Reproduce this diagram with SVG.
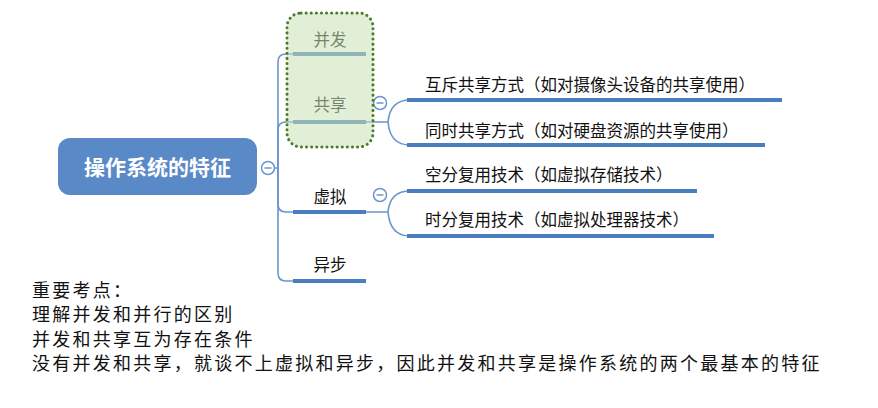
<svg xmlns="http://www.w3.org/2000/svg" width="878" height="408" viewBox="0 0 878 408">
<style>
.conn{fill:none;stroke:#6B95CD;stroke-width:1.6}
.bar{fill:#4B7DC1}
.lbl{font-family:"Noto Sans CJK SC","Noto Sans",sans-serif;font-size:16.5px;fill:#111}
.note{font-family:"Noto Sans CJK SC","Noto Sans",sans-serif;font-size:18px;fill:#111;letter-spacing:2.25px}
.tog circle{fill:#fff;stroke:#6B95CD;stroke-width:1.5}
.tog line{stroke:#6B95CD;stroke-width:1.5}
</style>
<rect width="878" height="408" fill="#fff"/>
<g id="connectors">
<line class="conn" x1="274" y1="168" x2="278" y2="168"/>
<path class="conn" d="M278,168 L278,62 Q278,54 286,54 L294,54"/>
<path class="conn" d="M278,168 L278,130 Q278,122 286,122 L294,122"/>
<path class="conn" d="M278,168 L278,204 Q278,212 286,212 L294,212"/>
<path class="conn" d="M278,168 L278,273 Q278,281 286,281 L294,281"/>
<path class="conn" d="M366,122 L388,122 Q390,100 410,100 M388,122 Q390,145 410,145"/>
<path class="conn" d="M366,212 L388,212 Q390,191 410,191 M388,212 Q390,236 410,236"/>
</g>
<g id="root">
<rect x="58" y="138" width="199" height="57" rx="12" fill="#5A89C7"/>
<text x="157.5" y="175" text-anchor="middle" font-family="'Noto Sans CJK SC',sans-serif" font-size="21" font-weight="bold" fill="#fff">操作系统的特征</text>
<g class="tog"><circle cx="268" cy="168" r="6.5"/><line x1="264.5" y1="168" x2="271.5" y2="168"/></g>
</g>
<g id="n-bingfa">
<rect class="bar" x="293" y="52" width="73" height="4"/>
<text class="lbl" x="330" y="46" text-anchor="middle">并发</text>
</g>
<g id="n-gongxiang">
<rect class="bar" x="293" y="120" width="73" height="4"/>
<text class="lbl" x="330" y="111" text-anchor="middle">共享</text>
<g class="tog"><circle cx="380" cy="103" r="6.5"/><line x1="376.5" y1="103" x2="383.5" y2="103"/></g>
</g>
<g id="n-xuni">
<rect class="bar" x="293" y="210" width="73" height="4"/>
<text class="lbl" x="330" y="203" text-anchor="middle">虚拟</text>
<g class="tog"><circle cx="380" cy="195" r="6.5"/><line x1="376.5" y1="195" x2="383.5" y2="195"/></g>
</g>
<g id="n-yibu">
<rect class="bar" x="293" y="279" width="73" height="4"/>
<text class="lbl" x="330" y="271" text-anchor="middle">异步</text>
</g>
<g id="highlight">
<rect x="287" y="13" width="86" height="134" rx="14" fill="#C8E1B4" fill-opacity="0.55" stroke="#4F7A2C" stroke-width="3" stroke-dasharray="0.1 5" stroke-linecap="round"/>
</g>
<g id="n-huchi">
<rect class="bar" x="407" y="98" width="375" height="4"/>
<text class="lbl" x="425" y="91">互斥共享方式（如对摄像头设备的共享使用）</text>
</g>
<g id="n-tongshi">
<rect class="bar" x="407" y="143" width="358" height="4"/>
<text class="lbl" x="425" y="137">同时共享方式（如对硬盘资源的共享使用）</text>
</g>
<g id="n-kongfen">
<rect class="bar" x="407" y="189" width="290" height="4"/>
<text class="lbl" x="425" y="181">空分复用技术（如虚拟存储技术）</text>
</g>
<g id="n-shifen">
<rect class="bar" x="407" y="234" width="307" height="4"/>
<text class="lbl" x="425" y="226">时分复用技术（如虚拟处理器技术）</text>
</g>
<g id="notes">
<text class="note" x="32" y="297">重要考点：</text>
<text class="note" x="32" y="321">理解并发和并行的区别</text>
<text class="note" x="32" y="346">并发和共享互为存在条件</text>
<text class="note" x="32" y="370">没有并发和共享，就谈不上虚拟和异步，因此并发和共享是操作系统的两个最基本的特征</text>
</g>
</svg>
